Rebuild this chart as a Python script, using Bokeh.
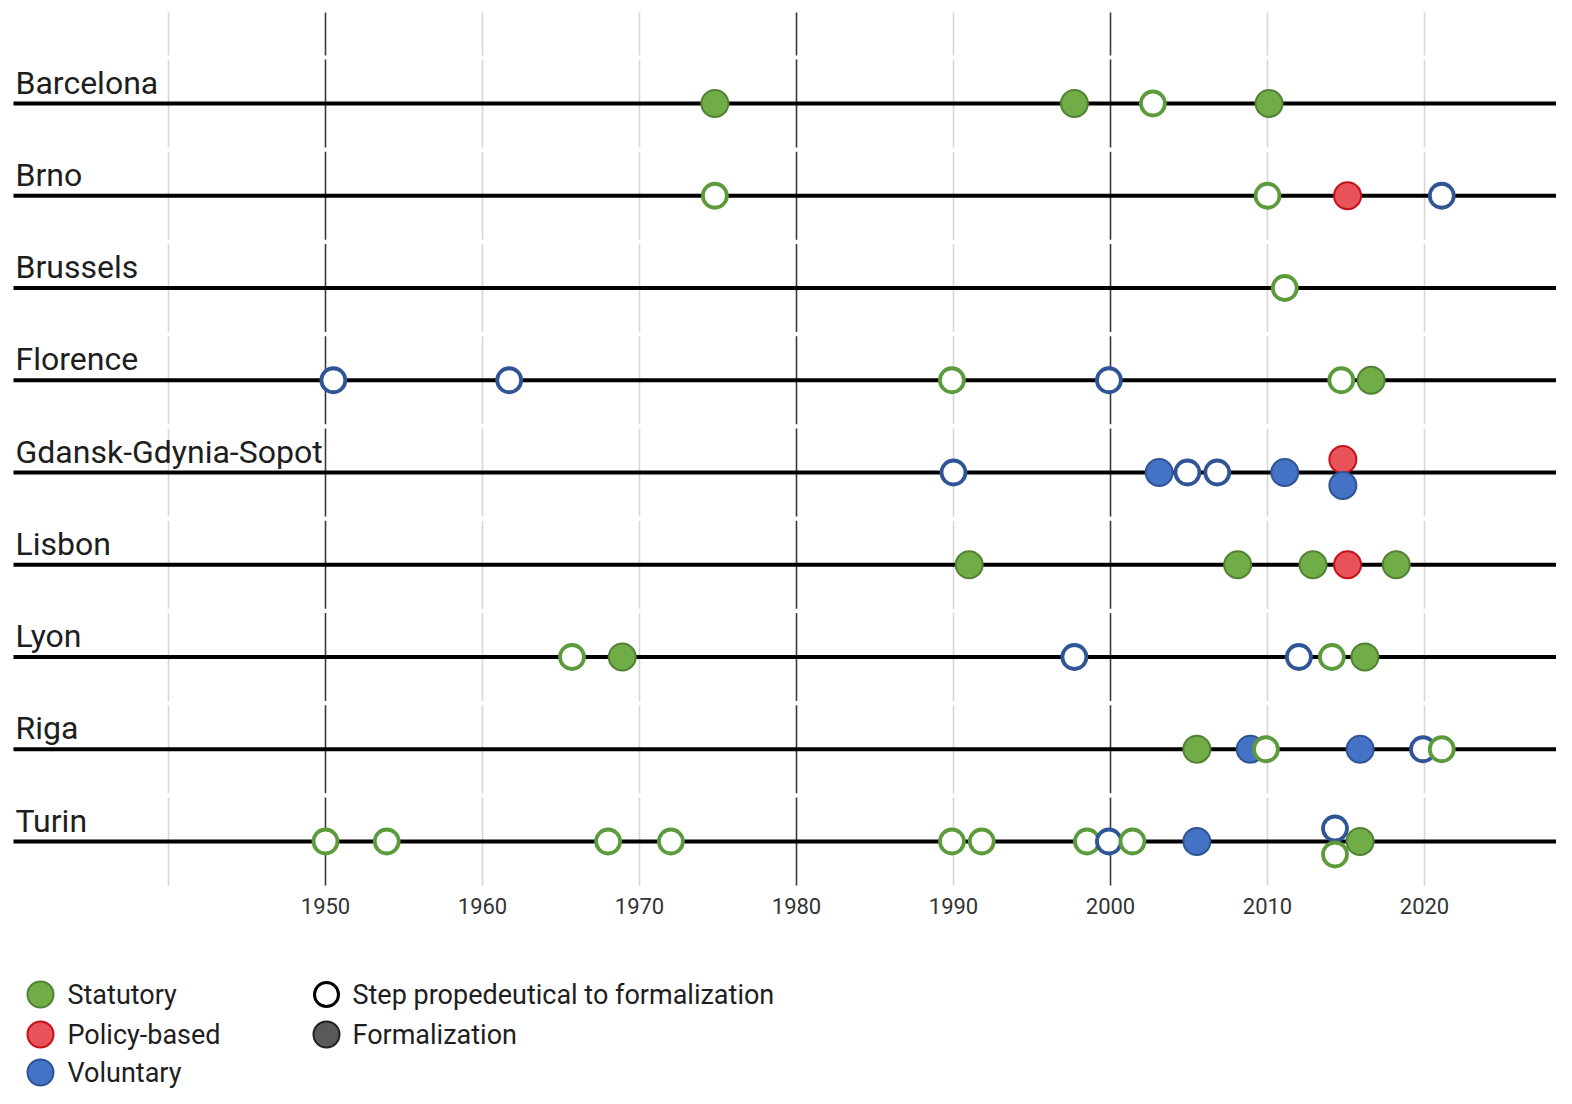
from bokeh.plotting import figure
from bokeh.models import Range1d, ColumnDataSource
from bokeh.core.properties import value
from bokeh.embed import file_html
from bokeh.resources import INLINE

# ---------------- data ----------------
cities = ["Barcelona", "Brno", "Brussels", "Florence", "Gdansk-Gdynia-Sopot",
          "Lisbon", "Lyon", "Riga", "Turin"]

# one entry per event (row index into cities, year, kind, formalization?, lane for stacked dots)
ev_city = [0, 0, 0, 0,
           1, 1, 1, 1,
           2,
           3, 3, 3, 3, 3, 3,
           4, 4, 4, 4, 4, 4, 4,
           5, 5, 5, 5, 5,
           6, 6, 6, 6, 6, 6,
           7, 7, 7, 7, 7, 7,
           8, 8, 8, 8, 8, 8, 8, 8, 8, 8, 8, 8, 8]
ev_year = [1974.8, 1997.7, 2002.7, 2010.1,
           1974.8, 2010.0, 2015.1, 2021.1,
           2011.1,
           1950.5, 1961.7, 1989.9, 1999.9, 2014.7, 2016.6,
           1990.0, 2003.1, 2004.9, 2006.8, 2011.1, 2014.8, 2014.8,
           1991.0, 2008.1, 2012.9, 2015.1, 2018.2,
           1965.7, 1968.9, 1997.7, 2012.0, 2014.1, 2016.2,
           2005.5, 2008.9, 2009.9, 2015.9, 2019.9, 2021.1,
           1950.0, 1953.9, 1968.0, 1972.0, 1989.9, 1991.8, 1998.5, 1999.9, 2001.4,
           2005.5, 2014.3, 2014.3, 2015.9]
ev_kind = ["Statutory", "Statutory", "Statutory", "Statutory",
           "Statutory", "Statutory", "Policy-based", "Voluntary",
           "Statutory",
           "Voluntary", "Voluntary", "Statutory", "Voluntary", "Statutory", "Statutory",
           "Voluntary", "Voluntary", "Voluntary", "Voluntary", "Voluntary", "Policy-based", "Voluntary",
           "Statutory", "Statutory", "Statutory", "Policy-based", "Statutory",
           "Statutory", "Statutory", "Voluntary", "Voluntary", "Statutory", "Statutory",
           "Statutory", "Voluntary", "Statutory", "Voluntary", "Voluntary", "Statutory",
           "Statutory", "Statutory", "Statutory", "Statutory", "Statutory", "Statutory",
           "Statutory", "Voluntary", "Statutory", "Voluntary", "Voluntary", "Statutory",
           "Statutory"]
ev_formal = [True, True, False, True,
             False, False, True, False,
             False,
             False, False, False, False, False, True,
             False, True, False, False, True, True, True,
             True, True, True, True, True,
             False, True, False, False, False, True,
             True, True, False, True, False, False,
             False, False, False, False, False, False, False, False, False,
             True, False, False, True]
ev_lane = [0, 0, 0, 0,
           0, 0, 0, 0,
           0,
           0, 0, 0, 0, 0, 0,
           0, 0, 0, 0, 0, -1, 1,
           0, 0, 0, 0, 0,
           0, 0, 0, 0, 0, 0,
           0, 0, 0, 0, 0, 0,
           0, 0, 0, 0, 0, 0, 0, 0, 0, 0, -1, 1, 0]

grid_years = [1940, 1950, 1960, 1970, 1980, 1990, 2000, 2010, 2020]
dark_years = [1950, 1980, 2000]
tick_labels = ["1950", "1960", "1970", "1980", "1990", "2000", "2010", "2020"]
tick_years = [1950, 1960, 1970, 1980, 1990, 2000, 2010, 2020]

legend_kinds = ["Statutory", "Policy-based", "Voluntary"]
legend_steps = ["Step propedeutical to formalization", "Formalization"]

# ---------------- styles ----------------
FILL = {"Statutory": "#70AD47", "Policy-based": "#E8535A", "Voluntary": "#4472C4"}
EDGE = {"Statutory": "#538135", "Policy-based": "#C8101A", "Voluntary": "#2F5597"}
RING = {"Statutory": "#5B9B3B", "Policy-based": "#C8101A", "Voluntary": "#2F5597"}

W, H = 1556, 1088
PX_PER_YEAR = 15.7
ROW_PX = 92.25


def px_x(X):  # picture px -> year (layout helper)
    return 1950 + (X - 325) / PX_PER_YEAR


def px_y(Y):  # picture px -> row units (layout helper)
    return (Y - 103) / ROW_PX


LANE = 13 / ROW_PX

p = figure(width=W, height=H,
           x_range=Range1d(px_x(0), px_x(W)),
           y_range=Range1d(px_y(H), px_y(0)),
           output_backend="svg", toolbar_location=None,
           x_axis_location=None, y_axis_location=None,
           min_border=0, outline_line_color=None)
p.grid.visible = False
p.background_fill_color = "white"
p.border_fill_color = "white"

# vertical grid segments (broken between rows)
half = 44 / ROW_PX
bands = [(px_y(12), px_y(55))] + [(i - half, i + half) for i in range(len(cities))]
gx, gy0, gy1, gc = [], [], [], []
for yr in grid_years:
    for (b0, b1) in bands:
        gx.append(yr)
        gy0.append(b0)
        gy1.append(b1)
        gc.append("#3a3a3a" if yr in dark_years else "#d6d6d6")
p.segment(x0=gx, y0=gy0, x1=gx, y1=gy1, line_color=gc, line_width=1.6)

# row lines
nrow = len(cities)
p.segment(x0=[px_x(13)] * nrow, y0=list(range(nrow)),
          x1=[px_x(W + 10)] * nrow, y1=list(range(nrow)),
          line_color="black", line_width=4)

# row labels
p.text(x=[px_x(15)] * nrow, y=[i - 2 / ROW_PX for i in range(nrow)], text=cities,
       text_font=value("Roboto"), text_font_size="32px", text_color="#1e1e1e",
       text_align="left", text_baseline="bottom")

# events
fill, line, lw, size, ys = [], [], [], [], []
for c, k, f, ln in zip(ev_city, ev_kind, ev_formal, ev_lane):
    ys.append(c + ln * LANE)
    if f:
        fill.append(FILL[k]); line.append(EDGE[k]); lw.append(2.0); size.append(27)
    else:
        fill.append("white"); line.append(RING[k]); lw.append(3.8); size.append(24)
src = ColumnDataSource(dict(x=ev_year, y=ys, fill=fill, line=line, lw=lw, size=size))
p.scatter(x="x", y="y", source=src, marker="circle", size="size",
          fill_color="fill", line_color="line", line_width="lw")

# tick labels
p.text(x=tick_years, y=[px_y(905)] * len(tick_years), text=tick_labels,
       text_font=value("Roboto"), text_font_size="22px", text_color="#333333",
       text_align="center", text_baseline="middle")

# legend (drawn manually)
leg_rows = [px_y(994), px_y(1034), px_y(1072)]
p.scatter(x=[px_x(40)] * 3, y=leg_rows, marker="circle", size=26,
          fill_color=[FILL[k] for k in legend_kinds],
          line_color=[EDGE[k] for k in legend_kinds], line_width=2)
p.text(x=[px_x(67)] * 3, y=leg_rows, text=legend_kinds,
       text_font=value("Roboto"), text_font_size="27px", text_color="#1e1e1e",
       text_align="left", text_baseline="middle")
p.scatter(x=[px_x(326)] * 2, y=leg_rows[:2], marker="circle", size=[24, 26],
          fill_color=["white", "#595959"], line_color=["black", "#222222"],
          line_width=[3, 2])
p.text(x=[px_x(352)] * 2, y=leg_rows[:2], text=legend_steps,
       text_font=value("Roboto"), text_font_size="27px", text_color="#1e1e1e",
       text_align="left", text_baseline="middle")

open("out.html", "w").write(file_html(p, INLINE))
